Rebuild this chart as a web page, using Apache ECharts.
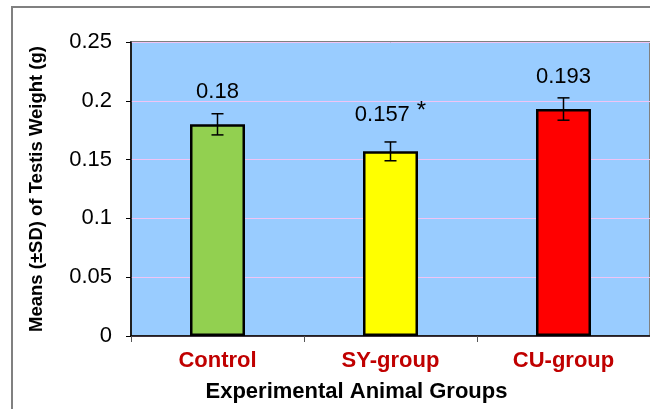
<!DOCTYPE html>
<html>
<head>
<meta charset="utf-8">
<script src="https://cdn.jsdelivr.net/npm/echarts@6/dist/echarts.min.js"></script>
<style>
  html, body { margin: 0; padding: 0; background: #fff; }
  #main { width: 650px; height: 409px; }
</style>
</head>
<body>
<div id="main"></div>
<script>
var groups = ['Control', 'SY-group', 'CU-group'];
var means = [0.18, 0.157, 0.193];
var sds = [0.009, 0.008, 0.0095];
var barColors = ['#92d050', '#ffff00', '#ff0000'];
var marks = ['', '*', ''];
var yTicks = [0, 0.05, 0.1, 0.15, 0.2, 0.25];

var chart = echarts.init(document.getElementById('main'));
var font = '"Liberation Sans", Arial, sans-serif';

var barData = means.map(function (v, i) {
  return { value: v, itemStyle: { color: barColors[i] } };
});
var errData = means.map(function (v, i) {
  return [i, v - sds[i], v + sds[i]];
});

chart.setOption({
  animation: false,
  textStyle: { fontFamily: font },
  graphic: [{
    type: 'rect',
    shape: { x: 12, y: 7, width: 700, height: 500 },
    style: { fill: 'none', stroke: '#808080', lineWidth: 2 },
    z: -1
  }],
  grid: {
    left: 131, top: 42, width: 522, height: 294,
    show: true, backgroundColor: '#99ccff',
    borderColor: '#808080', borderWidth: 2
  },
  xAxis: {
    type: 'category',
    data: groups,
    name: 'Experimental Animal Groups',
    nameLocation: 'middle',
    nameGap: 45,
    nameTextStyle: { fontSize: 22, fontWeight: 'bold', color: '#000', padding: [0, 68, 0, 0] },
    axisLine: { lineStyle: { color: '#000', width: 1.5 } },
    axisTick: { show: true, length: 6, lineStyle: { color: '#555' } },
    axisLabel: { fontSize: 22, fontWeight: 'bold', color: '#c00000', margin: 14 }
  },
  yAxis: {
    type: 'value',
    min: yTicks[0],
    max: yTicks[yTicks.length - 1],
    interval: 0.05,
    name: 'Means (±SD) of Testis Weight (g)',
    nameLocation: 'middle',
    nameGap: 85,
    nameTextStyle: { fontSize: 18.5, fontWeight: 'bold', color: '#000' },
    axisLine: { show: true, lineStyle: { color: '#000', width: 1.5 } },
    axisTick: { show: true, length: 5, lineStyle: { color: '#000' } },
    axisLabel: { fontSize: 22, color: '#000', margin: 19 },
    splitLine: { lineStyle: { color: '#f0c4f4', width: 1 } }
  },
  series: [{
    type: 'bar',
    data: barData,
    barWidth: 55,
    itemStyle: { borderColor: '#000', borderWidth: 2.5 },
    label: {
      show: true,
      position: 'top',
      distance: 21,
      fontSize: 22,
      color: '#000',
      formatter: function (p) {
        var m = marks[p.dataIndex];
        return m ? '{v|' + p.value + '}{s|' + m + '}' : '{v|' + p.value + '}';
      },
      rich: {
        v: { fontSize: 22, color: '#000' },
        s: { fontSize: 24, color: '#000', padding: [0, 0, 7, 7], verticalAlign: 'bottom' }
      }
    },
    z: 2
  }, {
    type: 'custom',
    data: errData,
    z: 5,
    renderItem: function (params, api) {
      var x = api.value(0);
      var lo = api.coord([x, api.value(1)]);
      var hi = api.coord([x, api.value(2)]);
      var w = 6;
      var st = { stroke: '#000', lineWidth: 1.5 };
      return {
        type: 'group',
        children: [
          { type: 'line', shape: { x1: hi[0], y1: hi[1], x2: lo[0], y2: lo[1] }, style: st },
          { type: 'line', shape: { x1: hi[0] - w, y1: hi[1], x2: hi[0] + w, y2: hi[1] }, style: st },
          { type: 'line', shape: { x1: lo[0] - w, y1: lo[1], x2: lo[0] + w, y2: lo[1] }, style: st }
        ]
      };
    }
  }]
});
</script>
</body>
</html>
